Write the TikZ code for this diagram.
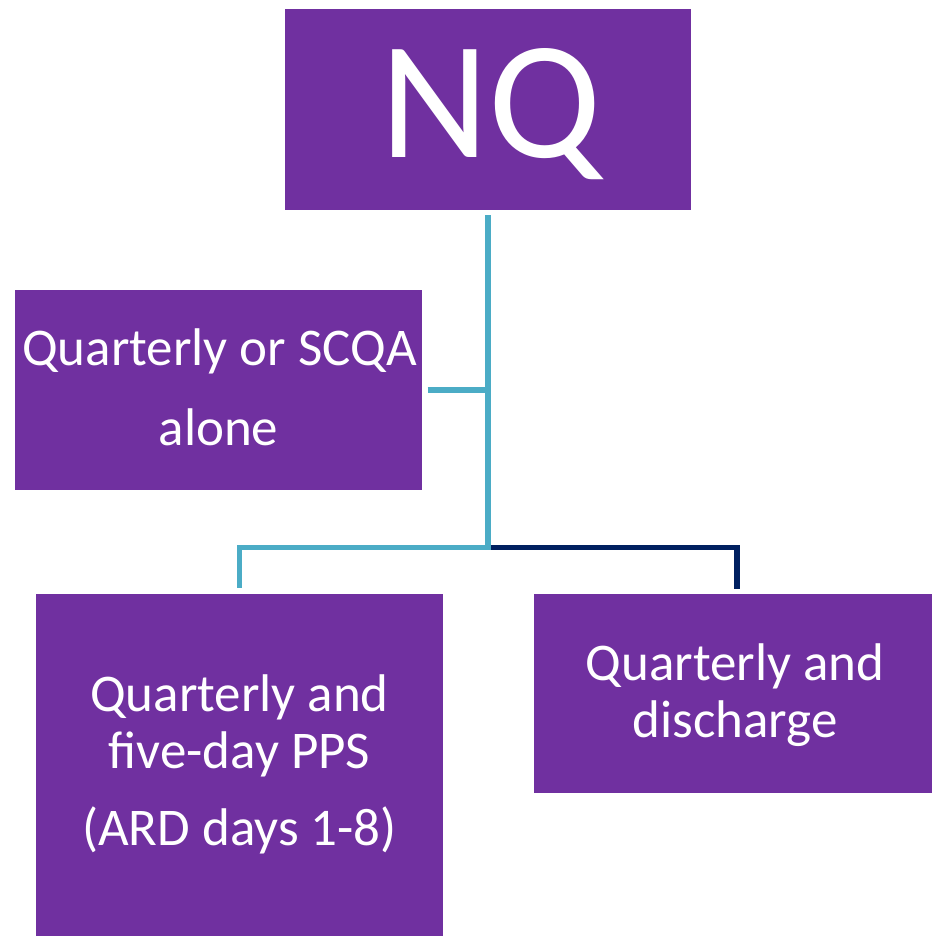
\documentclass[tikz,border=0pt]{standalone}
\usepackage{fontspec}
\setmainfont{Carlito}
\definecolor{boxpurple}{HTML}{7030A0}
\definecolor{linkteal}{HTML}{4BACC6}
\definecolor{linknavy}{HTML}{002060}
\begin{document}
\begin{tikzpicture}[x=1bp,y=-1bp,
  box/.style={rectangle, fill=boxpurple, draw=none, inner sep=0pt, outer sep=0pt,
              minimum width=406bp, minimum height=200bp},
  boxtext/.style={anchor=base, inner sep=0pt, text=white,
              font=\fontsize{53bp}{58bp}\selectfont},
  bigtext/.style={anchor=base, inner sep=0pt, text=white,
              font=\fontsize{168bp}{180bp}\selectfont},
  link/.style={line width=5.5bp, line cap=butt, line join=miter}]
  \useasboundingbox (0,0) rectangle (932,936);
  \clip (0,0) rectangle (932,936);

  % boxes
  \node[box] (nq) at (488,109.5) {};
  \node[box] (alone) at (218.5,390) {};
  \node[box, minimum height=400bp, anchor=north] (pps) at (239.5,593.5) {};
  \node[box, minimum height=199bp, anchor=north] (disch) at (737,594) {};

  % texts
  \node[bigtext] (nqtext) at (491,157) {NQ};
  \node[boxtext] (alone1) at (219.5,365) {Quarterly or SCQA};
  \node[boxtext] (alone2) at (218.5,445) {alone};
  \node[boxtext] (pps1) at (239.5,711) {Quarterly and};
  \node[boxtext] (pps2) at (239.5,768) {five-day PPS};
  \node[boxtext] (pps3) at (239.5,845) {(ARD days 1-8)};
  \node[boxtext] (disch1) at (735,680) {Quarterly and};
  \node[boxtext] (disch2) at (735,737) {discharge};

  % connectors (canvas y points up, so a positive yshift lifts an end above a box)
  \coordinate (hub) at (488,547.5);
  \draw[link, linknavy] (hub) -| ([yshift=5.5bp]disch.north);
  \draw[link, linkteal] (hub) -| ([yshift=5.5bp]pps.north);
  \draw[link, linkteal] ([xshift=6bp]alone.east) -- (nq.south |- alone.east);
  \draw[link, linkteal] ([yshift=-5.5bp]nq.south) -- ([yshift=-2.75bp]hub);
\end{tikzpicture}
\end{document}
